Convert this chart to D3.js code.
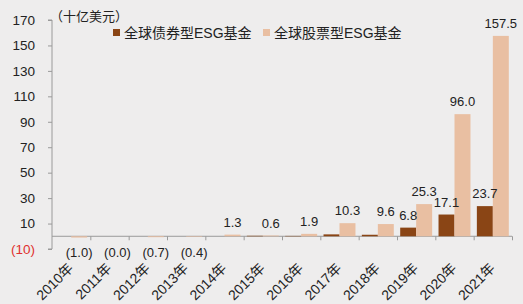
<!DOCTYPE html>
<html>
<head>
<meta charset="utf-8">
<script src="https://cdn.jsdelivr.net/npm/d3@7"></script>
<style>
  body { margin: 0; background: #eeeded; }
  svg { display: block; font-family: "Liberation Sans", Arial, "Noto Sans CJK SC", sans-serif; }
</style>
</head>
<body>
<svg id="chart" width="523" height="304"></svg>
<script>
var years = ["2010年", "2011年", "2012年", "2013年", "2014年", "2015年", "2016年", "2017年", "2018年", "2019年", "2020年", "2021年"]
var seriesNames = ["全球债券型ESG基金", "全球股票型ESG基金"]
var bondValues = [0, 0, 0, 0, 0, 0.4, 0.3, 1.5, 1.2, 6.8, 17.1, 23.7]
var equityValues = [-1.0, -0.0, -0.7, -0.4, 1.3, 0.6, 1.9, 10.3, 9.6, 25.3, 96.0, 157.5]
var bondLabels = [null, null, null, null, null, null, null, null, null, "6.8", "17.1", "23.7"]
var equityLabels = ["(1.0)", "(0.0)", "(0.7)", "(0.4)", "1.3", "0.6", "1.9", "10.3", "9.6", "25.3", "96.0", "157.5"]
var yTicks = [-10, 10, 30, 50, 70, 90, 110, 130, 150, 170]

var colors = ["#8a4515", "#e9bfa2"]
var axisColor = "#9a9a9a"

var svg = d3.select("#chart")
var plotLeft = 52, plotRight = 512, plotTop = 20, plotBottom = 249

var yScale = d3.scaleLinear().domain([-10, 170]).range([plotBottom, plotTop])
var xScale = d3.scaleBand().domain(years).range([plotLeft, plotRight]).padding(0)
var xSub = d3.scaleBand().domain(seriesNames).range([0, xScale.bandwidth()]).paddingInner(0).paddingOuter(0.2)

// y axis
var yAxis = d3.axisLeft(yScale)
  .tickValues(yTicks)
  .tickSize(4)
  .tickPadding(13)
  .tickFormat(d => d < 0 ? "(" + Math.abs(d) + ")" : d)

var gy = svg.append("g")
  .attr("transform", "translate(" + plotLeft + ",0)")
  .call(yAxis)
gy.select(".domain").attr("stroke", axisColor).attr("d", "M-4," + plotBottom + "H0V" + plotTop + "H-4")
gy.selectAll(".tick line").attr("stroke", axisColor)
gy.selectAll(".tick text")
  .attr("font-size", 13.5)
  .attr("fill", d => d < 0 ? "#e0302e" : "#222")

// x axis line at zero with boundary ticks
var xTickScale = d3.scaleLinear().domain([0, years.length]).range([plotLeft, plotRight])
var gx = svg.append("g")
  .attr("transform", "translate(0," + yScale(0) + ")")
  .call(d3.axisBottom(xTickScale).tickValues(d3.range(1, years.length + 1)).tickSize(4).tickFormat(""))
gx.select(".domain").attr("stroke", axisColor).attr("d", "M" + plotLeft + ",0H" + plotRight)
gx.selectAll(".tick line").attr("stroke", axisColor)

// bars
var rows = years.map((y, i) => ({ year: y, values: [bondValues[i], equityValues[i]], labels: [bondLabels[i], equityLabels[i]] }))

var groups = svg.selectAll(".year")
  .data(rows)
  .join("g")
  .attr("class", "year")
  .attr("transform", d => "translate(" + xScale(d.year) + ",0)")

groups.selectAll("rect")
  .data(d => d.values.map((v, k) => ({ key: seriesNames[k], value: v, k: k })))
  .join("rect")
  .attr("x", d => xSub(d.key))
  .attr("width", xSub.bandwidth())
  .attr("y", d => yScale(Math.max(0, d.value)))
  .attr("height", d => Math.abs(yScale(d.value) - yScale(0)))
  .attr("fill", d => colors[d.k])

groups.selectAll(".lbl")
  .data(d => d.labels.map((l, k) => ({ key: seriesNames[k], label: l, value: d.values[k] })).filter(d => d.label))
  .join("text")
  .attr("class", "lbl")
  .attr("x", d => xSub(d.key) + xSub.bandwidth() / 2)
  .attr("y", d => d.label[0] == "(" ? 257 : yScale(d.value) - 8)
  .attr("text-anchor", "middle")
  .attr("font-size", 13)
  .attr("fill", "#222")
  .text(d => d.label)

// category labels
svg.selectAll(".xlab")
  .data(years)
  .join("text")
  .attr("class", "xlab")
  .attr("transform", d => "translate(" + (xScale(d) + xScale.bandwidth() / 2 + 3) + ",269) rotate(-45)")
  .attr("text-anchor", "end")
  .attr("font-size", 14)
  .attr("fill", "#222")
  .text(d => d)

// unit
svg.append("text")
  .attr("x", 50)
  .attr("y", 21)
  .attr("font-size", 13)
  .attr("fill", "#222")
  .style("font-family", "'Noto Sans CJK SC', sans-serif")
  .text("（十亿美元）")

// legend
var legendX = [113, 263]
var legend = svg.selectAll(".legend")
  .data(seriesNames)
  .join("g")
  .attr("class", "legend")
  .attr("transform", (d, i) => "translate(" + legendX[i] + ",29)")
legend.append("rect")
  .attr("width", 7)
  .attr("height", 7)
  .attr("fill", (d, i) => colors[i])
legend.append("text")
  .attr("x", 11)
  .attr("y", 8.5)
  .attr("font-size", 14)
  .attr("fill", "#222")
  .text(d => d)
</script>
</body>
</html>
